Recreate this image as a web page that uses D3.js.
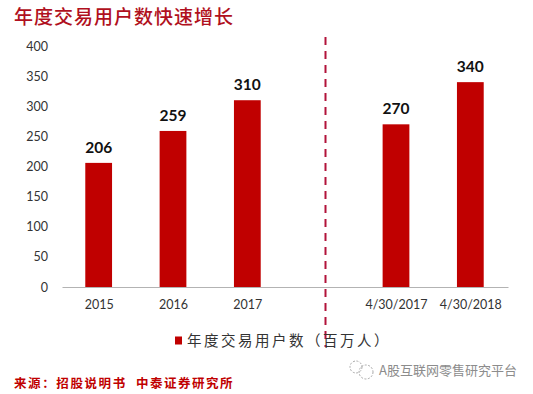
<!DOCTYPE html>
<html>
<head>
<meta charset="utf-8">
<script src="https://cdn.jsdelivr.net/npm/d3@7"></script>
<style>
    html, body { margin: 0; padding: 0; background: #fff; }
    svg { display: block; }
    .yAxis text, .xAxis text { font-family: Lato, sans-serif; font-size: 12.5px; fill: #333; }
    .barLabel { font-family: Lato, sans-serif; font-size: 15.5px; font-weight: bold; fill: #111; }
</style>
</head>
<body>
<div id="chart"></div>
<script>
const categories = ["2015", "2016", "2017", "", "4/30/2017", "4/30/2018"];
const users = [206, 259, 310, null, 270, 340];
const yTicks = [0, 50, 100, 150, 200, 250, 300, 350, 400];

const titleText = "年度交易用户数快速增长";
const legendText = "年度交易用户数（百万人）";
const sourceLeft = "来源：招股说明书";
const sourceRight = "中泰证券研究所";
const watermarkText = "A股互联网零售研究平台";

const width = 533;
const height = 394;
const margin = {top: 46, left: 62, right: 25, bottom: 107};
const RED = "#c00000";
const CJK = "'Noto Sans CJK SC', sans-serif";

const svg = d3.select("#chart").append("svg")
    .attr("width", width)
    .attr("height", height);

/***** SCALES *****/
const xScale = d3.scaleBand()
    .domain(categories)
    .range([margin.left, width - margin.right])
    .paddingInner(0.64)
    .paddingOuter(0.32);

const yScale = d3.scaleLinear()
    .domain([0, 400])
    .range([height - margin.bottom, margin.top]);

/***** AXES *****/
const yAxis = svg.append("g")
    .attr("class", "yAxis")
    .attr("transform", `translate(${margin.left - 14}, 0)`)
    .call(d3.axisLeft(yScale).tickValues(yTicks).tickSize(0).tickPadding(0));
yAxis.select(".domain").remove();

const xAxis = svg.append("g")
    .attr("class", "xAxis")
    .attr("transform", `translate(0, ${height - margin.bottom})`)
    .call(d3.axisBottom(xScale).tickSize(0).tickPadding(13));
xAxis.select(".domain").attr("stroke", "#b3b3b3").attr("stroke-width", 1);

/***** BARS *****/
const barData = categories
    .map((c, i) => ({cat: c, val: users[i]}))
    .filter(d => d.val !== null);

svg.selectAll(".bar")
    .data(barData)
    .enter()
    .append("rect")
    .attr("class", "bar")
    .attr("x", d => xScale(d.cat) - 0.5)
    .attr("y", d => yScale(d.val))
    .attr("width", xScale.bandwidth())
    .attr("height", d => yScale(0) - yScale(d.val))
    .attr("fill", RED);

svg.selectAll(".barLabel")
    .data(barData)
    .enter()
    .append("text")
    .attr("class", "barLabel")
    .attr("x", d => xScale(d.cat) + xScale.bandwidth() / 2 - 0.5)
    .attr("y", d => yScale(d.val) - 10)
    .attr("text-anchor", "middle")
    .text(d => d.val);

/***** DIVIDER *****/
svg.append("line")
    .attr("x1", 325.5).attr("x2", 325.5)
    .attr("y1", 37).attr("y2", 347)
    .attr("stroke", "#b2133a")
    .attr("stroke-width", 2)
    .attr("stroke-dasharray", "8,6");

/***** TITLE, LEGEND, SOURCE *****/
svg.append("text")
    .attr("x", 14).attr("y", 24)
    .attr("font-family", CJK)
    .attr("font-size", 19)
    .attr("font-weight", 500)
    .attr("letter-spacing", 1)
    .attr("fill", "#b01020")
    .text(titleText);

svg.append("rect")
    .attr("x", 175).attr("y", 336.5)
    .attr("width", 7).attr("height", 8)
    .attr("fill", RED);

svg.append("text")
    .attr("x", 187).attr("y", 346)
    .attr("font-family", CJK)
    .attr("font-size", 14.5)
    .attr("letter-spacing", 2.5)
    .attr("fill", "#333")
    .text(legendText);

svg.append("text")
    .attr("x", 14).attr("y", 388)
    .attr("font-family", CJK)
    .attr("font-size", 12.5)
    .attr("font-weight", 700)
    .attr("letter-spacing", 1.6)
    .attr("fill", RED)
    .text(sourceLeft);

svg.append("text")
    .attr("x", 136).attr("y", 388)
    .attr("font-family", CJK)
    .attr("font-size", 12.5)
    .attr("font-weight", 700)
    .attr("letter-spacing", 1.5)
    .attr("fill", RED)
    .text(sourceRight);

/***** WATERMARK *****/
const mark = svg.append("g")
    .attr("fill", "none")
    .attr("stroke", "#aaa")
    .attr("stroke-width", 1)
    .attr("stroke-dasharray", "2,1.5");
mark.append("circle").attr("cx", 356).attr("cy", 367).attr("r", 6);
mark.append("circle").attr("cx", 366).attr("cy", 372).attr("r", 7);

svg.append("text")
    .attr("x", 379).attr("y", 375)
    .attr("font-family", CJK)
    .attr("font-size", 13)
    .attr("fill", "#8c8c8c")
    .text(watermarkText);
</script>
</body>
</html>
